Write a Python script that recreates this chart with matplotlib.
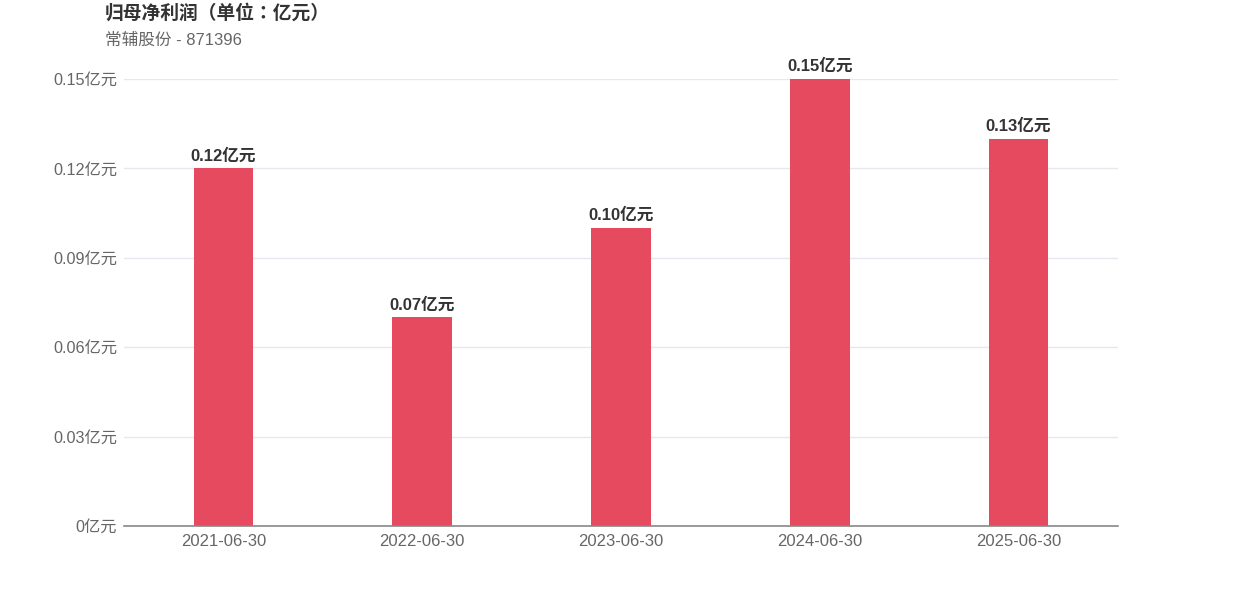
import numpy as np
import matplotlib
matplotlib.use("Agg")
import matplotlib.pyplot as plt

plt.rcParams['font.family'] = ['Liberation Sans', 'Noto Sans CJK SC', 'DejaVu Sans']

dates = ["2021-06-30", "2022-06-30", "2023-06-30", "2024-06-30", "2025-06-30"]
profit = [0.12, 0.07, 0.10, 0.15, 0.13]
yticks = [0, 0.03, 0.06, 0.09, 0.12, 0.15]
ytick_labels = ["0亿元", "0.03亿元", "0.06亿元", "0.09亿元", "0.12亿元", "0.15亿元"]

W, H = 1242, 596
fig = plt.figure(figsize=(W / 100, H / 100), dpi=100)
ax = fig.add_axes([124 / W, 70 / H, (1118 - 124) / W, (526 - 79) / H])

x = np.arange(len(dates))
ax.bar(x, profit, width=0.3, color="#E64A5E", zorder=3)
for xi, v in zip(x, profit):
    ax.text(xi, v + 0.0017, f"{v:.2f}亿元", ha="center", va="bottom",
            fontsize=12, fontweight="bold", color="#333333", clip_on=False)

ax.set_xlim(-0.5, len(dates) - 0.5)
ax.set_ylim(0, 0.15)
ax.set_xticks(x)
ax.set_xticklabels(dates, fontsize=12, color="#666666")
ax.set_yticks(yticks)
ax.set_yticklabels(ytick_labels, fontsize=11.7, color="#666666")
ax.tick_params(axis="y", length=0, pad=5)
ax.tick_params(axis="x", length=0, pad=6)
ax.grid(axis="y", color="#E6E8EE", linewidth=1, zorder=0)
for s in ["top", "right", "left"]:
    ax.spines[s].set_visible(False)
ax.spines["bottom"].set_color("#888888")
ax.spines["bottom"].set_linewidth(1.2)
ax.spines["bottom"].set_zorder(4)

fig.text(105 / W, 1 - 13 / H, "归母净利润（单位：亿元）", fontsize=13.5, fontweight="bold",
         color="#333333", ha="left", va="center",
         family=['Liberation Sans', 'Noto Sans CJK TC'])
fig.text(105 / W, 1 - 40 / H, "常辅股份 - 871396", fontsize=12, color="#666666",
         ha="left", va="center")

fig.savefig("out.png", dpi=100)
